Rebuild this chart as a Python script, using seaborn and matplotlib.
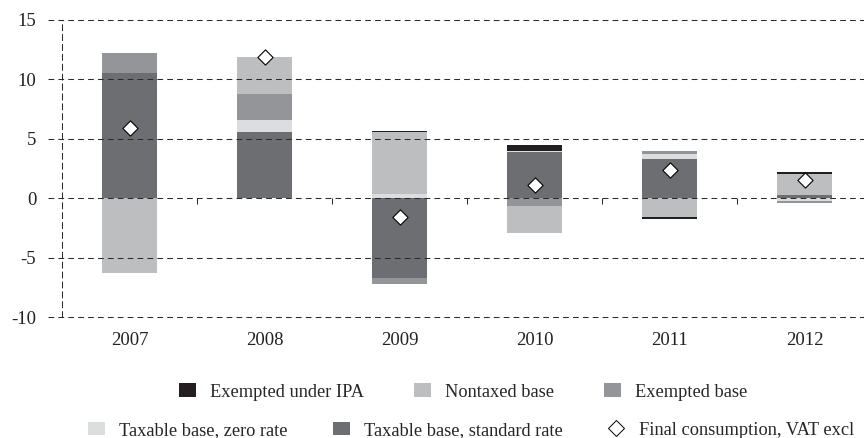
import numpy as np
import matplotlib
matplotlib.use('Agg')
import matplotlib.pyplot as plt
import seaborn as sns
from matplotlib.patches import Patch
from matplotlib.lines import Line2D

sns.set_theme(style='white')
plt.rcParams['font.family'] = ['Liberation Serif', 'DejaVu Serif']

# Data (contributions, percentage points)
years = ['2007', '2008', '2009', '2010', '2011', '2012']
standard_rate = [10.5, 5.55, -6.72, 3.85, 3.3, 0.25]
zero_rate = [0.0, 1.0, 0.35, 0.15, 0.4, -0.22]
exempted_base = [1.7, 2.2, -0.48, -0.67, 0.25, -0.15]
nontaxed_base = [-6.3, 3.1, 5.2, -2.23, -1.6, 1.8]
exempted_ipa = [0.0, 0.0, 0.13, 0.5, -0.12, 0.15]
final_consumption = [5.9, 11.85, -1.55, 1.1, 2.35, 1.55]
y_ticks = [-10, -5, 0, 5, 10, 15]

labels = {
    'ipa': 'Exempted under IPA',
    'nontaxed': 'Nontaxed base',
    'exempted': 'Exempted base',
    'zero': 'Taxable base, zero rate',
    'standard': 'Taxable base, standard rate',
    'final': 'Final consumption, VAT excl',
}
colors = {
    'ipa': '#231f20',
    'nontaxed': '#bcbec0',
    'exempted': '#939598',
    'zero': '#dcddde',
    'standard': '#6d6e71',
}
# stacking order (bottom to top / top to bottom for negatives)
layers = [('standard', standard_rate), ('zero', zero_rate),
          ('exempted', exempted_base), ('nontaxed', nontaxed_base),
          ('ipa', exempted_ipa)]

fig = plt.figure(figsize=(8.64, 4.38), dpi=100)
ax = fig.add_axes([62 / 864, 121 / 438, 802 / 864, 297 / 438])

pos_base = np.zeros(len(years))
neg_base = np.zeros(len(years))
for key, vals in layers:
    vals = np.array(vals)
    bottom = np.where(vals >= 0, pos_base, neg_base)
    sns.barplot(x=years, y=vals, bottom=bottom, color=colors[key],
                saturation=1, width=0.41, errorbar=None, linewidth=0,
                edgecolor='none', ax=ax, zorder=2)
    pos_base = pos_base + np.where(vals >= 0, vals, 0)
    neg_base = neg_base + np.where(vals < 0, vals, 0)

sns.scatterplot(x=years, y=final_consumption, marker='D', s=60, color='white',
                edgecolor='black', linewidth=0.8, ax=ax, zorder=5)

ax.set_ylim(-10, 15)
ax.set_xlim(-0.5, 5.44)
ax.set_yticks(y_ticks)
ax.set_yticklabels([str(t) for t in y_ticks])
ax.set_xlabel('')
ax.set_ylabel('')

dash = (0, (5.5, 4))
ax.hlines(y_ticks, -0.018, 1, transform=ax.get_yaxis_transform(),
          colors='#2b2b2b', linewidth=0.75, linestyles=[dash], clip_on=False, zorder=3)
# small ticks on the zero line between categories
bounds = np.arange(len(years) - 1) + 0.5
ax.vlines(bounds, -0.45, 0, colors='#2b2b2b', linewidth=0.75, zorder=3)

for s in ['top', 'right', 'bottom']:
    ax.spines[s].set_visible(False)
ax.spines['left'].set_linestyle(dash)
ax.spines['left'].set_linewidth(0.75)
ax.spines['left'].set_color('#2b2b2b')

ax.tick_params(axis='y', length=0, pad=18.5, labelsize=13.5, colors='#222222')
ax.tick_params(axis='x', length=0, pad=11, labelsize=13.5, colors='#222222')

def patch(k):
    return Patch(facecolor=colors[k], edgecolor='none', label=labels[k])

row1 = [patch('ipa'), patch('nontaxed'), patch('exempted')]
row2 = [patch('zero'), patch('standard'),
        Line2D([], [], marker='D', linestyle='none', markersize=8,
               markerfacecolor='white', markeredgecolor='black',
               markeredgewidth=0.7, label=labels['final'])]
leg_kw = dict(ncol=3, loc='center', frameon=False, fontsize=13.2,
              handlelength=0.93, handleheight=0.75, handletextpad=0.77)
fig.legend(handles=row1, bbox_to_anchor=(0.536, 0.105), columnspacing=2.7, **leg_kw)
fig.legend(handles=row2, bbox_to_anchor=(0.545, 0.018), columnspacing=2.45, **leg_kw)

fig.savefig('out.png', dpi=100)
